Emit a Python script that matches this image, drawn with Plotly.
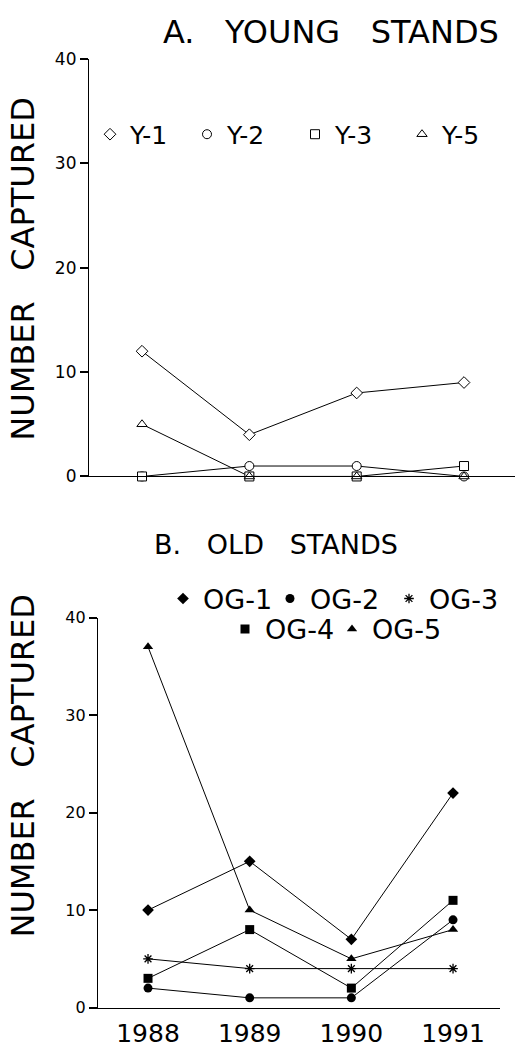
import plotly.graph_objects as go

years = [1988, 1989, 1990, 1991]
year_labels = ["1988", "1989", "1990", "1991"]

# Panel A: young stands
young_names = ["Y-1", "Y-2", "Y-3", "Y-5"]
y1 = [12, 4, 8, 9]
y2 = [0, 1, 1, 0]
y3 = [0, 0, 0, 1]
y5 = [5, 0, 0, 0]
young_values = [y1, y2, y3, y5]
young_symbols = ["diamond", "circle", "square", "triangle-up"]

# Panel B: old stands
old_names = ["OG-1", "OG-2", "OG-3", "OG-4", "OG-5"]
og1 = [10, 15, 7, 22]
og2 = [2, 1, 1, 9]
og3 = [5, 4, 4, 4]
og4 = [3, 8, 2, 11]
og5 = [37, 10, 5, 8]
old_values = [og1, og2, og3, og4, og5]
old_symbols = ["diamond", "circle", "asterisk-open", "square", "triangle-up"]

y_ticks = [0, 10, 20, 30, 40]

W, H = 515, 1048
FONT = "DejaVu Sans"


def px_x(p):
    return p / W


def px_y(p):
    return 1 - p / H


# legend placement (pixel left edge, pixel row centre) for each series
young_leg_pos = [(90, 127), (187, 127), (295, 127), (402, 127)]
old_leg_pos = [(163, 601), (270, 601), (389, 601), (225, 632), (332, 632)]

fig = go.Figure()
legends = {}
k = 1

# Young stand series (white-filled markers so lines stop at the marker edge)
for name, vals in zip(young_names, young_values):
    fig.add_trace(go.Scatter(
        x=years, y=vals, mode="lines", xaxis="x", yaxis="y",
        line=dict(color="black", width=1), showlegend=False, hoverinfo="skip"))
for (name, vals, sym), (lx, ly) in zip(zip(young_names, young_values, young_symbols), young_leg_pos):
    lname = "legend" if k == 1 else f"legend{k}"
    fig.add_trace(go.Scatter(
        x=years, y=vals, mode="markers", name=name, xaxis="x", yaxis="y",
        marker=dict(symbol=sym, size=9, color="white",
                    line=dict(color="black", width=1)),
        cliponaxis=False, legend=lname))
    legends[lname] = dict(x=px_x(lx), y=px_y(ly), xanchor="left", yanchor="middle",
                          font=dict(size=25, family=FONT, color="black"),
                          bgcolor="rgba(0,0,0,0)", borderwidth=0, itemwidth=30)
    k += 1

# Old stand series
for name, vals in zip(old_names, old_values):
    fig.add_trace(go.Scatter(
        x=years, y=vals, mode="lines", xaxis="x2", yaxis="y2",
        line=dict(color="black", width=1), showlegend=False, hoverinfo="skip"))
for (name, vals, sym), (lx, ly) in zip(zip(old_names, old_values, old_symbols), old_leg_pos):
    lname = f"legend{k}"
    is_ast = sym == "asterisk-open"
    fig.add_trace(go.Scatter(
        x=years, y=vals, mode="markers", name=name, xaxis="x2", yaxis="y2",
        marker=dict(symbol=sym, size=8 if is_ast else 9, color="black",
                    line=dict(color="black", width=1.3 if is_ast else 0)),
        cliponaxis=False, legend=lname))
    legends[lname] = dict(x=px_x(lx), y=px_y(ly), xanchor="left", yanchor="middle",
                          font=dict(size=27, family=FONT, color="black"),
                          bgcolor="rgba(0,0,0,0)", borderwidth=0, itemwidth=30)
    k += 1

axis_common = dict(showgrid=False, zeroline=False, showline=True,
                   linecolor="black", linewidth=1.2)
ytick_common = dict(ticks="outside", ticklen=8, tickcolor="#000000", tickwidth=1.5)

fig.update_layout(
    width=W, height=H,
    margin=dict(l=0, r=0, t=0, b=0),
    paper_bgcolor="white", plot_bgcolor="white",
    font=dict(family=FONT, color="black"),
    xaxis=dict(domain=[px_x(89), 1.0], range=[1987.506, 1991.475],
               showticklabels=False, ticks="", anchor="y", **axis_common),
    yaxis=dict(domain=[px_y(476), px_y(50)], range=[0, 40], anchor="x",
               tickmode="array", tickvals=y_ticks, ticktext=[str(v) for v in y_ticks],
               tickfont=dict(size=17, family=FONT, color="black"),
               **ytick_common, **axis_common),
    xaxis2=dict(domain=[px_x(98), px_x(500)], range=[1987.508, 1991.462],
                tickvals=years, ticktext=year_labels, ticks="",
                ticklabelstandoff=3,
                tickfont=dict(size=25, family=FONT, color="black"),
                anchor="y2", **axis_common),
    yaxis2=dict(domain=[px_y(1018), px_y(620)], range=[0, 40], anchor="x2",
                tickmode="array", tickvals=y_ticks, ticktext=[str(v) for v in y_ticks],
                tickfont=dict(size=16, family=FONT, color="black"),
                **ytick_common, **axis_common),
    annotations=[
        dict(text="A.\u00a0\u00a0 YOUNG\u00a0\u00a0 STANDS", x=px_x(331), y=px_y(22), xref="paper", yref="paper",
             showarrow=False, font=dict(size=32, family=FONT, color="black"), xanchor="center", yanchor="middle"),
        dict(text="B.\u00a0\u00a0 OLD\u00a0\u00a0 STANDS", x=px_x(276), y=px_y(545), xref="paper", yref="paper",
             showarrow=False, font=dict(size=27, family=FONT, color="black"), xanchor="center", yanchor="middle"),
        dict(text="NUMBER\u00a0\u00a0 CAPTURED", x=px_x(23), y=px_y(265), xref="paper", yref="paper",
             showarrow=False, textangle=-90, font=dict(size=32, family=FONT, color="black"),
             xanchor="center", yanchor="middle"),
        dict(text="NUMBER\u00a0\u00a0 CAPTURED", x=px_x(23), y=px_y(772), xref="paper", yref="paper",
             showarrow=False, textangle=-90, font=dict(size=32, family=FONT, color="black"),
             xanchor="center", yanchor="middle"),
    ],
)
fig.update_layout(**legends)

fig.write_html("out.html")
